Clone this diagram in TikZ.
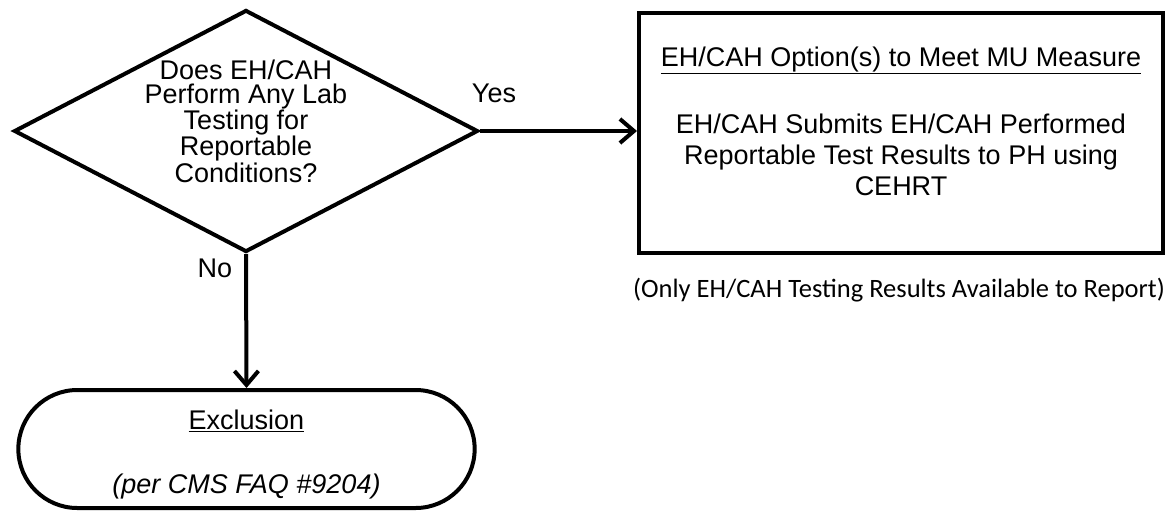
\documentclass[tikz,border=0pt]{standalone}
\usepackage{fontspec}
\setmainfont{Liberation Sans}
\newfontfamily\calibri{Carlito}
\usetikzlibrary{shapes.geometric,shapes.misc,arrows.meta}

\begin{document}
\begin{tikzpicture}[x=1pt,y=-1pt]
\tikzset{every node/.style={align=center,font=\fontsize{27}{31}\selectfont}}
\tikzset{decision/.style={draw,diamond,line width=4pt,minimum width=464pt,minimum height=242pt,inner sep=0pt}}
\tikzset{optbox/.style={draw,rectangle,line width=4pt,minimum width=524pt,minimum height=240pt}}
\tikzset{endcap/.style={draw,rounded rectangle,line width=4pt,minimum width=463pt,minimum height=118pt}}
\tikzset{flow/.style={line width=4pt,-{Straight Barb[length=14pt,width=24pt]}}}
\useasboundingbox (0,0) rectangle (1168,512);
\node[decision] (lab) at (246,131) {};
\node[font=\fontsize{27}{24.5}\selectfont] (labtext) at (246,121) {Does EH/CAH\\Perform Any Lab\\Testing for\\Reportable\\Conditions?};
\node[optbox] (opt) at (901,133) {\underline{EH/CAH Option(s) to Meet MU Measure}\\[36pt]
  EH/CAH Submits EH/CAH Performed\\Reportable Test Results to PH using\\CEHRT\\[-7pt]};
\node[font=\calibri\fontsize{26.5}{31}\selectfont] (note) at (899,290) {(Only EH/CAH Testing Results Available to Report)};
\node[endcap] (excl) at (246.5,449) {\underline{Exclusion}\\[33pt]\textit{(per CMS FAQ \#9204)}\\[-36pt]};
\draw[flow] (lab.east) -- (lab.east -| opt.west);
\draw[flow] (lab.south) -- (excl.north);
\node (yes) at (494,93) {Yes};
\node (no) at (215,268) {No};
\end{tikzpicture}
\end{document}
